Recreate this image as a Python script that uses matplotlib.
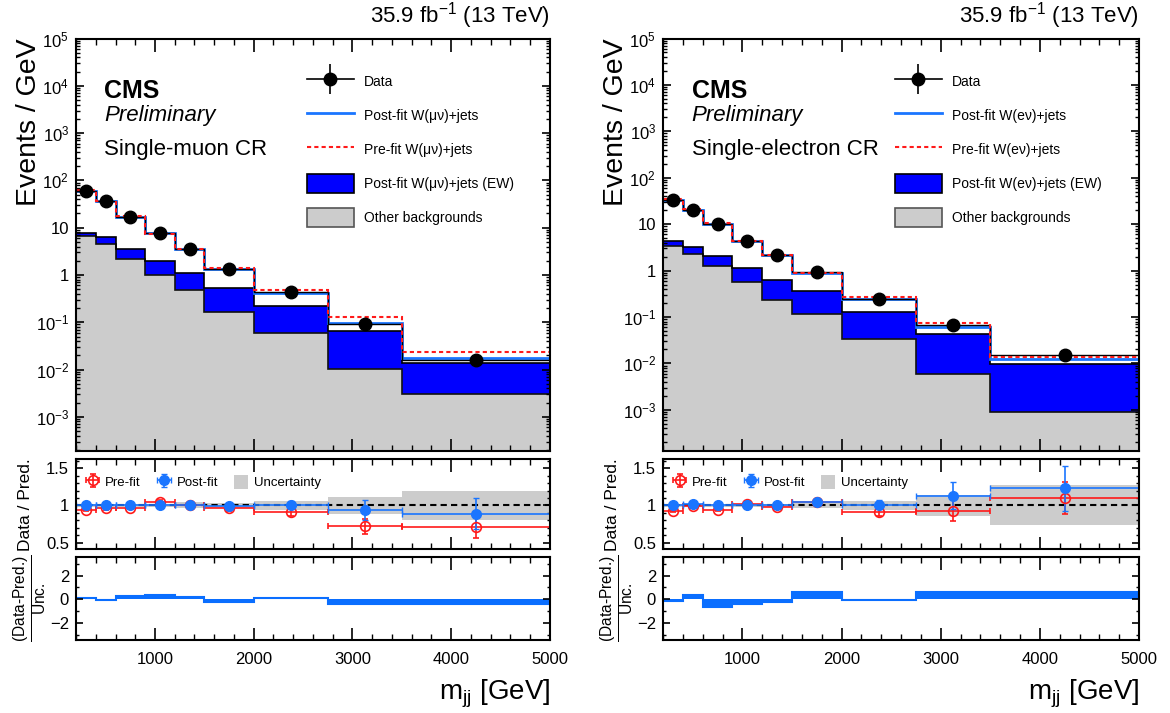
import numpy as np
import matplotlib
matplotlib.use("Agg")
import matplotlib.pyplot as plt
from matplotlib.patches import Patch
from matplotlib.lines import Line2D
from matplotlib.legend_handler import HandlerTuple
from matplotlib.ticker import LogLocator, MultipleLocator, FixedLocator, FuncFormatter, NullFormatter

plt.rcParams['font.family'] = ['Liberation Sans', 'DejaVu Sans']
plt.rcParams['mathtext.fontset'] = 'custom'
plt.rcParams['mathtext.rm'] = 'Liberation Sans'
plt.rcParams['mathtext.it'] = 'Liberation Sans:italic'
plt.rcParams['mathtext.bf'] = 'Liberation Sans:bold'
plt.rcParams['axes.linewidth'] = 1.5

# m_jj binning (GeV)
edges = [200, 400, 600, 900, 1200, 1500, 2000, 2750, 3500, 5000]

# single-muon CR, events / GeV
mu_data = [59, 36, 17, 7.8, 3.5, 1.35, 0.43, 0.091, 0.0158]
mu_data_err = [0.54, 0.42, 0.24, 0.16, 0.1, 0.05, 0.024, 0.011, 0.003]
mu_postfit = [59, 36, 17.2, 7.7, 3.55, 1.37, 0.42, 0.097, 0.0178]
mu_prefit = [63, 37.5, 17.5, 7.4, 3.5, 1.41, 0.47, 0.13, 0.023]
mu_ew = [1.3, 1.9, 1.4, 1.0, 0.62, 0.37, 0.16, 0.055, 0.0107]
mu_other = [6.6, 4.6, 2.16, 1.0, 0.48, 0.166, 0.06, 0.0102, 0.0031]
# ratio and pull panels
mu_post_ratio = [1.00, 1.00, 1.00, 1.01, 1.00, 0.99, 1.01, 0.94, 0.89]
mu_post_err = [0.015, 0.015, 0.02, 0.02, 0.03, 0.03, 0.05, 0.13, 0.21]
mu_pre_ratio = [0.94, 0.96, 0.97, 1.05, 1.00, 0.96, 0.91, 0.72, 0.71]
mu_pre_err = [0.015, 0.015, 0.02, 0.02, 0.03, 0.03, 0.05, 0.10, 0.15]
mu_unc = [0.015, 0.015, 0.02, 0.02, 0.04, 0.03, 0.06, 0.11, 0.19]
mu_pull = [0.1, -0.1, 0.3, 0.33, 0.16, -0.25, 0.08, -0.42, -0.42]

# single-electron CR, events / GeV
e_data = [32.7, 20.7, 10.1, 4.4, 2.14, 0.92, 0.245, 0.0686, 0.015]
e_data_err = [0.4, 0.32, 0.18, 0.12, 0.085, 0.043, 0.018, 0.0096, 0.0032]
e_postfit = [32.4, 20.3, 10.1, 4.4, 2.14, 0.88, 0.243, 0.061, 0.0123]
e_prefit = [35, 20.9, 10.7, 4.3, 2.18, 0.885, 0.27, 0.074, 0.0138]
e_ew = [0.81, 0.95, 0.8, 0.56, 0.39, 0.25, 0.094, 0.037, 0.0089]
e_other = [3.46, 2.29, 1.24, 0.56, 0.237, 0.117, 0.034, 0.006, 0.0009]
e_post_ratio = [1.01, 1.02, 1.00, 1.00, 1.00, 1.05, 1.01, 1.13, 1.23]
e_post_err = [0.015, 0.02, 0.02, 0.03, 0.03, 0.04, 0.06, 0.18, 0.30]
e_pre_ratio = [0.93, 0.99, 0.94, 1.02, 0.98, 1.04, 0.91, 0.93, 1.10]
e_pre_err = [0.015, 0.02, 0.02, 0.03, 0.03, 0.04, 0.05, 0.14, 0.22]
e_unc = [0.02, 0.02, 0.02, 0.02, 0.02, 0.03, 0.06, 0.14, 0.27]
e_pull = [-0.15, 0.35, -0.66, -0.43, -0.23, 0.6, -0.05, 0.6, 0.6]

# labelled decades on the main panels
y_decades = [1e-3, 1e-2, 1e-1, 1, 10, 1e2, 1e3, 1e4, 1e5]

GRAY = '#cccccc'
EWBLUE = '#0000ff'
LINEBLUE = '#1a75ff'
RED = '#ff1a1a'


def log_label(v, pos):
    e = int(round(np.log10(v)))
    if e == 0:
        return '1'
    if e == 1:
        return '10'
    return r'$10^{%d}$' % e


def style_ticks(a, ylen=6):
    a.tick_params(which='both', direction='in', top=True, right=True, labelsize=12)
    a.tick_params(axis='x', which='major', length=9, width=1.2)
    a.tick_params(axis='x', which='minor', length=4.5, width=1.0)
    a.tick_params(axis='y', which='major', length=ylen, width=1.2)
    a.tick_params(axis='y', which='minor', length=ylen / 2, width=1.0)
    a.tick_params(axis='x', pad=9)
    a.tick_params(axis='y', pad=5)
    a.set_xlim(200, 5000)
    a.xaxis.set_major_locator(MultipleLocator(1000))
    a.xaxis.set_minor_locator(MultipleLocator(200))


fig = plt.figure(figsize=(11.7, 7.13), dpi=100)


def draw_channel(x0, w, data, data_err, postfit, prefit, ew, other,
                 post_ratio, post_err, pre_ratio, pre_err, unc, pull,
                 ylow, lep, region):
    ed = np.array(edges)
    centers = 0.5 * (ed[1:] + ed[:-1])
    half = np.diff(ed) / 2
    stack = np.add(other, ew)

    ax = fig.add_axes([x0, 0.3675, w, 0.5785])
    ax.set_yscale('log')
    ax.stairs(other, ed, baseline=1e-9, fill=True, color=GRAY)
    ax.stairs(stack, ed, baseline=other, fill=True, color=EWBLUE)
    ax.stairs(other, ed, baseline=None, color='#111111', lw=1.2)
    ax.stairs(stack, ed, baseline=None, color='k', lw=1.2)
    ax.stairs(postfit, ed, baseline=None, color=LINEBLUE, lw=2.0)
    ax.stairs(data, ed, baseline=None, color='k', lw=1.0)
    ax.stairs(prefit, ed, baseline=None, color=RED, lw=1.5, ls=(0, (2, 1.5)))
    ax.errorbar(centers, data, yerr=data_err, fmt='o', color='k', ms=9,
                elinewidth=1.2, capsize=0, zorder=5)
    ax.set_ylim(ylow, 1e5)
    style_ticks(ax, ylen=6)
    ax.yaxis.set_major_locator(FixedLocator(y_decades))
    ax.yaxis.set_minor_locator(LogLocator(base=10, subs=np.arange(2, 10), numticks=20))
    ax.yaxis.set_major_formatter(FuncFormatter(log_label))
    ax.yaxis.set_minor_formatter(NullFormatter())
    ax.tick_params(axis='x', labelbottom=False)
    ax.set_ylabel('Events / GeV', loc='top', fontsize=20.5)
    ax.yaxis.set_label_coords(-0.072, 1.0)

    ax.text(1.0, 1.0376, r'35.9 fb$^{-1}$ (13 TeV)', transform=ax.transAxes,
            ha='right', va='baseline', fontsize=16)
    ax.text(0.06, 0.856, 'CMS', transform=ax.transAxes, fontsize=18,
            fontweight='bold', va='baseline')
    ax.text(0.06, 0.80, 'Preliminary', transform=ax.transAxes, fontsize=16,
            style='italic', va='baseline')
    ax.text(0.06, 0.718, region, transform=ax.transAxes, fontsize=16,
            va='baseline')

    # data legend entry: horizontal + vertical bar with marker, overlaid
    h_data = (Line2D([], [], color='k', lw=1.2),
              Line2D([], [], color='k', marker='|', ms=22, mew=1.2, ls='none'),
              Line2D([], [], color='k', marker='o', ms=9, ls='none'))
    handles = [h_data,
               Line2D([], [], color=LINEBLUE, lw=2.0),
               Line2D([], [], color=RED, lw=1.5, ls=(0, (2, 1.5))),
               Patch(facecolor=EWBLUE, edgecolor='k', lw=1.2),
               Patch(facecolor=GRAY, edgecolor='#555555', lw=1.2)]
    labels = ['Data',
              'Post-fit W(%s)+jets' % lep,
              'Pre-fit W(%s)+jets' % lep,
              'Post-fit W(%s)+jets (EW)' % lep,
              'Other backgrounds']
    ax.legend(handles, labels, loc='upper left', bbox_to_anchor=(0.487, 0.92),
              frameon=False, fontsize=10, handlelength=3.4, handleheight=1.75,
              labelspacing=1.07, handletextpad=0.7, borderpad=0, borderaxespad=0,
              handler_map={tuple: HandlerTuple(ndivide=1, pad=0)})

    # ratio panel
    rax = fig.add_axes([x0, 0.2296, w, 0.1262])
    rax.stairs(np.add(1, unc), ed, baseline=np.subtract(1, unc), fill=True, color=GRAY)
    rax.axhline(1, color='k', ls=(0, (3, 2)), lw=1.5)
    h_pre = rax.errorbar(centers, pre_ratio, xerr=half, yerr=pre_err, fmt='o',
                         ms=7, mfc='none', mec=RED, mew=1.2, color=RED,
                         elinewidth=1.2, capsize=2)
    h_post = rax.errorbar(centers, post_ratio, xerr=half, yerr=post_err, fmt='o',
                          ms=7, color=LINEBLUE, elinewidth=1.2, capsize=2)
    rax.set_ylim(0.41, 1.62)
    style_ticks(rax, ylen=5)
    rax.yaxis.set_major_locator(FixedLocator([0.5, 1, 1.5]))
    rax.yaxis.set_major_formatter(FuncFormatter(lambda v, p: '%g' % v))
    rax.yaxis.set_minor_locator(MultipleLocator(0.1))
    rax.tick_params(axis='x', labelbottom=False)
    rax.set_ylabel('Data / Pred.', fontsize=12.5)
    rax.yaxis.set_label_coords(-0.09, 0.5)
    rax.legend([h_pre, h_post, Patch(facecolor=GRAY, edgecolor='none')],
               ['Pre-fit', 'Post-fit', 'Uncertainty'], loc='upper left',
               bbox_to_anchor=(0.02, 0.83), ncol=3, frameon=False, fontsize=9.5,
               handlelength=1.1, handleheight=1.3, handletextpad=0.4,
               columnspacing=1.2, borderpad=0, borderaxespad=0)

    # pull panel
    pax = fig.add_axes([x0, 0.1024, w, 0.116])
    pax.stairs(pull, ed, baseline=0, fill=True, color='#0a6eff')
    pax.stairs(pull, ed, baseline=None, color='#0a6eff', lw=1.5)
    pax.set_ylim(-3.45, 3.55)
    style_ticks(pax, ylen=5)
    pax.yaxis.set_major_locator(FixedLocator([-2, 0, 2]))
    pax.yaxis.set_major_formatter(FuncFormatter(lambda v, p: ('%d' % v).replace('-', '\u2212')))
    pax.yaxis.set_minor_locator(MultipleLocator(1))
    pax.set_ylabel(r'$\frac{\text{(Data-Pred.)}}{\text{Unc.}}$', fontsize=16)
    pax.yaxis.set_label_coords(-0.057, 0.5)
    pax.set_xlabel(r'm$_{\mathrm{jj}}$ [GeV]', loc='right', fontsize=20, labelpad=7)


draw_channel(0.06496, 0.4051, mu_data, mu_data_err, mu_postfit, mu_prefit,
             mu_ew, mu_other, mu_post_ratio, mu_post_err, mu_pre_ratio,
             mu_pre_err, mu_unc, mu_pull, 1.9e-4, '\u03bc\u03bd', 'Single-muon CR')
draw_channel(0.5667, 0.4068, e_data, e_data_err, e_postfit, e_prefit,
             e_ew, e_other, e_post_ratio, e_post_err, e_pre_ratio,
             e_pre_err, e_unc, e_pull, 1.3e-4, 'e\u03bd', 'Single-electron CR')

fig.savefig('out.png', dpi=100)
